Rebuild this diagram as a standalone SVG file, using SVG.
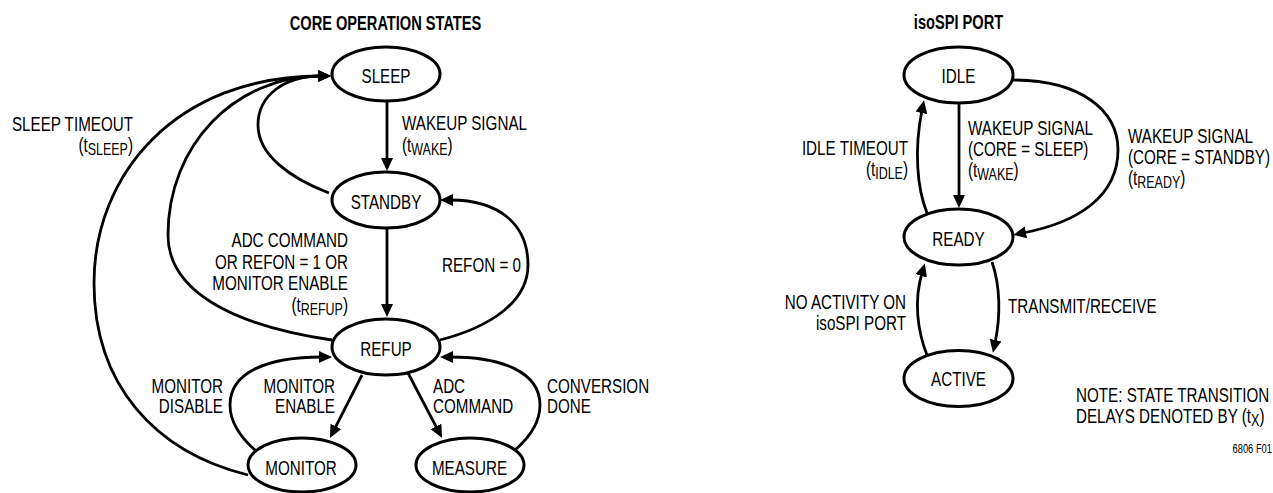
<svg xmlns="http://www.w3.org/2000/svg" width="1273" height="493" viewBox="0 0 1273 493">
<style>
text { font-family: "Liberation Sans", Arial, sans-serif; font-size: 19.5px; fill: #000; }
.b { font-weight: bold; }
.s { font-size: 16px; }
.m { text-anchor: middle; }
.e { text-anchor: end; }
.node ellipse { fill: #fff; stroke: #000; stroke-width: 3; }
.conn path { fill: none; stroke: #000; stroke-width: 2.8; marker-end: url(#arr); }
</style>
<defs>
<marker id="arr" markerUnits="userSpaceOnUse" markerWidth="14" markerHeight="14" refX="3" refY="6" orient="auto">
<path d="M0,0 L13,6 L0,12 z" fill="#000"/>
</marker>
</defs>
<rect width="1273" height="493" fill="#fff"/>

<text class="b m" transform="translate(385.5,29.5) scale(0.75,1)">CORE OPERATION STATES</text>
<text class="b m" transform="translate(958.5,29) scale(0.75,1)">isoSPI PORT</text>

<g id="connectors" class="conn">
<path id="c-sleep-standby" d="M387,102 L387,161"/>
<path id="c-standby-sleep" d="M329,193 C290,178 258,155 258,125 C258,95 285,76 321,76"/>
<path id="c-refup-sleep" d="M332,340 C230,325 168,290 168,235 C168,145 235,76 321,76"/>
<path id="c-monitor-sleep" d="M248,475 C155,452 94,385 94,283 C94,175 175,76 321,76"/>
<path id="c-standby-refup" d="M387,229 L387,307"/>
<path id="c-refup-standby" d="M440,340 C490,327 528,302 528,265 C528,225 500,200 450,200"/>
<path id="c-refup-monitor" d="M362,375 L334.5,429.1"/>
<path id="c-refup-measure" d="M408,373 L437.4,429.1"/>
<path id="c-monitor-refup" d="M256,451 C240,437 230,422 230,405 C230,372 268,357 322,357"/>
<path id="c-measure-refup" d="M515,450 C530,437 540,422 540,405 C540,372 502,357 450,357"/>
<path id="c-idle-ready" d="M959,103 L959,198"/>
<path id="c-ready-idle" d="M927,213 C917,188 914,150 922,110"/>
<path id="c-idle-ready-standby" d="M1013,80 C1080,80 1118,110 1118,150 C1118,195 1080,222 1023,233"/>
<path id="c-ready-active" d="M992,262 C1000,285 1001,315 995,343"/>
<path id="c-active-ready" d="M927,355 C917,330 914,300 922,273"/>
</g>

<g id="sleep" class="node"><ellipse cx="386" cy="74" rx="54" ry="27"/><text class="m" transform="translate(386,83) scale(0.78,1)">SLEEP</text></g>
<g id="standby" class="node"><ellipse cx="386" cy="200" rx="54" ry="28"/><text class="m" transform="translate(386,209) scale(0.78,1)">STANDBY</text></g>
<g id="refup" class="node"><ellipse cx="386" cy="347" rx="54" ry="28"/><text class="m" transform="translate(386,356) scale(0.78,1)">REFUP</text></g>
<g id="monitor" class="node"><ellipse cx="302" cy="465" rx="54" ry="27"/><text class="m" transform="translate(301,475) scale(0.78,1)">MONITOR</text></g>
<g id="measure" class="node"><ellipse cx="470" cy="465" rx="54" ry="27"/><text class="m" transform="translate(469.5,475) scale(0.78,1)">MEASURE</text></g>
<g id="idle" class="node"><ellipse cx="958.5" cy="75" rx="54.5" ry="28"/><text class="m" transform="translate(958.5,83) scale(0.78,1)">IDLE</text></g>
<g id="ready" class="node"><ellipse cx="958.5" cy="237" rx="54.5" ry="28"/><text class="m" transform="translate(958.5,246) scale(0.78,1)">READY</text></g>
<g id="active" class="node"><ellipse cx="958.5" cy="378.5" rx="54.5" ry="28"/><text class="m" transform="translate(958.5,386) scale(0.78,1)">ACTIVE</text></g>

<g id="labels">
<text class="e" transform="translate(133,131) scale(0.78,1)">SLEEP TIMEOUT</text>
<text class="e" transform="translate(133,152) scale(0.78,1)">(t<tspan class="s" dy="3">SLEEP</tspan><tspan dy="-3">)</tspan></text>
<text transform="translate(402,130) scale(0.78,1)">WAKEUP SIGNAL</text>
<text transform="translate(402,152) scale(0.78,1)">(t<tspan class="s" dy="3">WAKE</tspan><tspan dy="-3">)</tspan></text>
<text class="e" transform="translate(348,247) scale(0.78,1)">ADC COMMAND</text>
<text class="e" transform="translate(348,269) scale(0.78,1)">OR REFON = 1 OR</text>
<text class="e" transform="translate(348,290) scale(0.78,1)">MONITOR ENABLE</text>
<text class="e" transform="translate(348,312) scale(0.78,1)">(t<tspan class="s" dy="3">REFUP</tspan><tspan dy="-3">)</tspan></text>
<text transform="translate(442,272) scale(0.78,1)">REFON = 0</text>
<text class="e" transform="translate(223,393) scale(0.78,1)">MONITOR</text>
<text class="e" transform="translate(223,413) scale(0.78,1)">DISABLE</text>
<text class="e" transform="translate(335,393) scale(0.78,1)">MONITOR</text>
<text class="e" transform="translate(335,413) scale(0.78,1)">ENABLE</text>
<text transform="translate(433,393) scale(0.78,1)">ADC</text>
<text transform="translate(433,413) scale(0.78,1)">COMMAND</text>
<text transform="translate(547,393) scale(0.78,1)">CONVERSION</text>
<text transform="translate(547,413) scale(0.78,1)">DONE</text>

<text transform="translate(968,135) scale(0.78,1)">WAKEUP SIGNAL</text>
<text transform="translate(968,156) scale(0.78,1)">(CORE = SLEEP)</text>
<text transform="translate(968,177) scale(0.78,1)">(t<tspan class="s" dy="3">WAKE</tspan><tspan dy="-3">)</tspan></text>
<text class="e" transform="translate(908,155) scale(0.78,1)">IDLE TIMEOUT</text>
<text class="e" transform="translate(908,176) scale(0.78,1)">(t<tspan class="s" dy="3">IDLE</tspan><tspan dy="-3">)</tspan></text>
<text transform="translate(1128,143) scale(0.78,1)">WAKEUP SIGNAL</text>
<text transform="translate(1128,164) scale(0.78,1)">(CORE = STANDBY)</text>
<text transform="translate(1128,185) scale(0.78,1)">(t<tspan class="s" dy="3">READY</tspan><tspan dy="-3">)</tspan></text>
<text class="e" transform="translate(906,309) scale(0.78,1)">NO ACTIVITY ON</text>
<text class="e" transform="translate(906,330) scale(0.78,1)">isoSPI PORT</text>
<text transform="translate(1008,313) scale(0.78,1)">TRANSMIT/RECEIVE</text>
<text transform="translate(1076,402) scale(0.78,1)">NOTE: STATE TRANSITION</text>
<text transform="translate(1076,423) scale(0.78,1)">DELAYS DENOTED BY (t<tspan class="s" dy="3">X</tspan><tspan dy="-3">)</tspan></text>
<text class="e" transform="translate(1272,453) scale(0.78,1)" style="font-size:12px">6806 F01</text>
</g>
</svg>
